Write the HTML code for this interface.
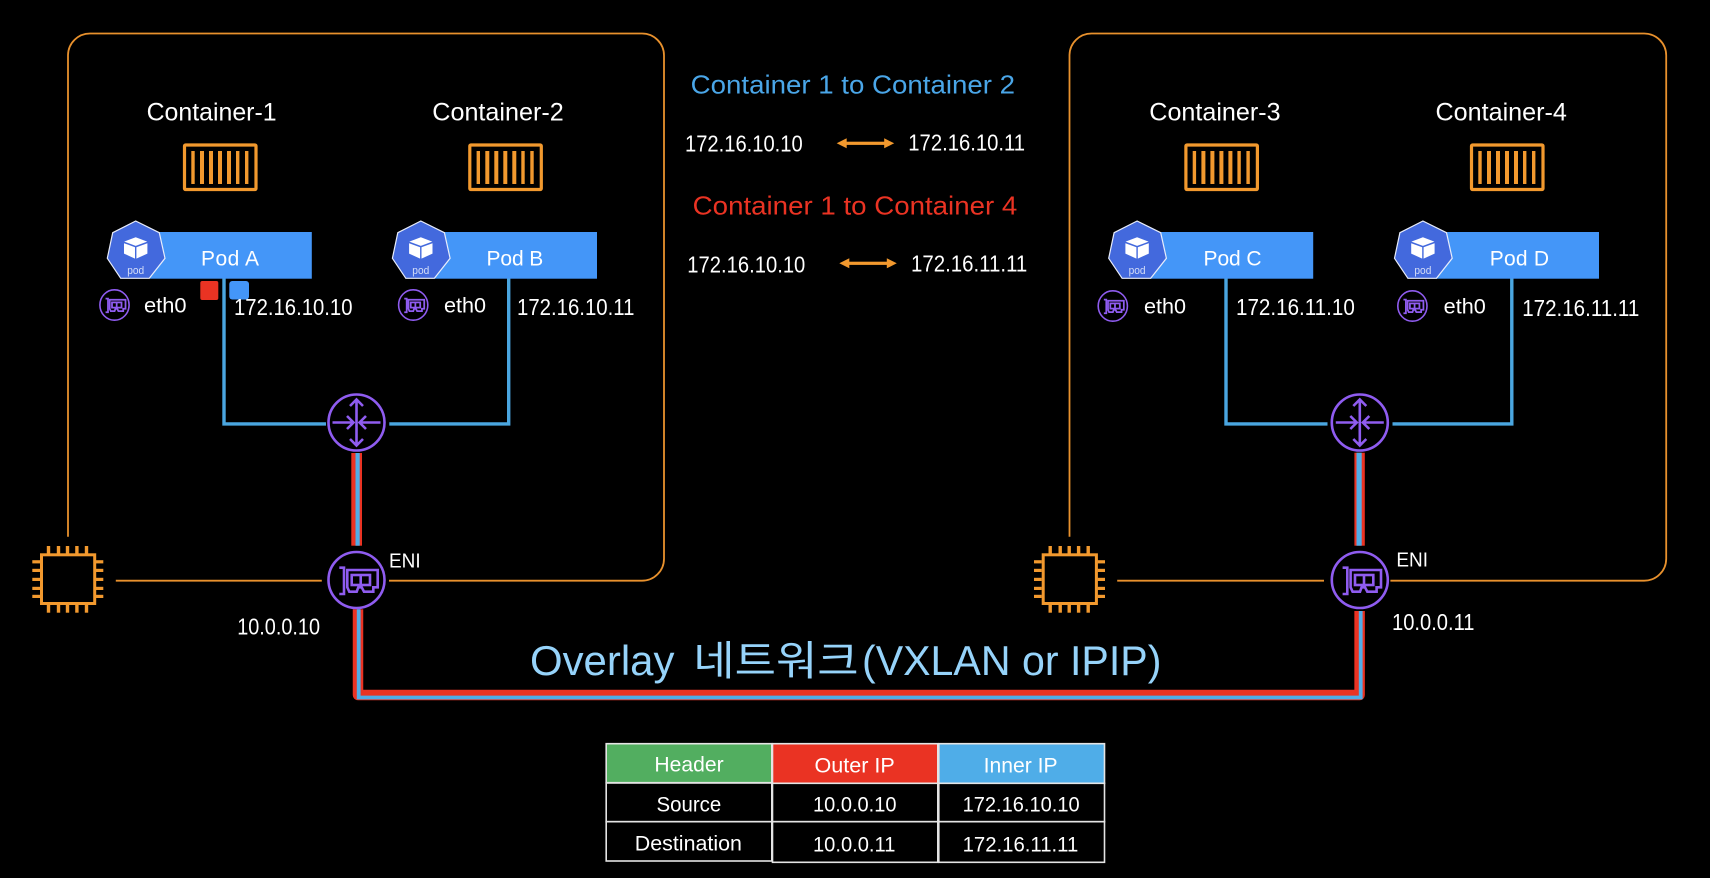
<!DOCTYPE html>
<html lang="ko">
<head>
<meta charset="utf-8">
<title>Overlay network</title>
<style>
html,body{margin:0;padding:0;background:#000;width:1710px;height:878px;overflow:hidden}
svg{display:block}
text{font-family:"Liberation Sans","Noto Sans CJK KR",sans-serif;fill:#fff}
.c{font-size:25px}
.p{font-size:21px}
.i{font-size:23px}
.t{font-size:21.5px}
.h{font-size:26px}
.e{font-size:20.5px}
.o{font-size:42px;fill:#96d3fa}
.k{font-family:"Noto Sans CJK KR","Liberation Sans",sans-serif;font-size:41px;fill:#96d3fa}
.q{font-size:11px;fill:#d5def8;text-anchor:middle}
</style>
</head>
<body>
<svg width="1710" height="878" viewBox="0 0 1710 878" xmlns="http://www.w3.org/2000/svg">
<defs>
  <g id="ctr">
    <rect x="1.5" y="1.5" width="71.5" height="44.5" fill="none" stroke="#f2992e" stroke-width="3.2" rx="1"/>
    <g fill="#f2992e">
      <rect x="8.3" y="7.5" width="3.4" height="33"/><rect x="17" y="7.5" width="4" height="33"/>
      <rect x="26" y="7.5" width="4" height="33"/><rect x="35" y="7.5" width="4" height="33"/>
      <rect x="44" y="7.5" width="4" height="33"/><rect x="53" y="7.5" width="3.4" height="33"/>
      <rect x="62" y="7.5" width="3.4" height="33"/>
    </g>
  </g>
  <g id="hex">
    <polygon points="0,0 23.6,11.7 29.3,37.3 13.6,57.3 -15,57.3 -28.4,37.3 -23,11.7" fill="#4369dd" stroke="#e8edfb" stroke-width="1.2"/>
    <polygon points="0,16.3 11.5,20.6 0,24.9 -11.5,20.6" fill="#fff"/>
    <polygon points="-11.7,22.2 -0.7,26.2 -0.7,37.6 -11.7,32.6" fill="#fff"/>
    <polygon points="11.7,22.2 0.7,26.2 0.7,37.6 11.7,32.6" fill="#fff"/>
  </g>
  <g id="rt" fill="none" stroke="#8f5cf0" stroke-width="2.6">
    <circle r="28"/>
    <path d="M0,-23V23M-6.5,-16.5L0,-23L6.5,-16.5M-6.5,16.5L0,23L6.5,16.5"/>
    <path d="M-24,0H-3M-9.5,-6.5L-3,0L-9.5,6.5M24,0H3M9.5,-6.5L3,0L9.5,6.5"/>
  </g>
  <g id="card" fill="none" stroke="#8f5cf0">
    <path d="M-17.2,-12.3H-12.5V14H-17.2"/>
    <path d="M-9.2,-10H21.2V7.3H16.8V11.7H7.5L5.2,7.3H1.8L0.2,11.7H-7.2L-9.2,7.3Z"/>
    <rect x="-4.8" y="-5" width="18.3" height="10"/>
    <path d="M4.2,-5V5"/>
  </g>
  <g id="eni"><circle r="28" fill="none" stroke="#8f5cf0" stroke-width="2.6"/><g stroke-width="2.6"><use href="#card"/></g></g>
  <g id="eth"><ellipse rx="14.6" ry="15.2" fill="none" stroke="#8f5cf0" stroke-width="1.6"/><g transform="scale(.52)" stroke-width="3.4"><use href="#card"/></g></g>
  <g id="chip" fill="#f2992e">
    <rect x="9.2" y="8.8" width="53.2" height="48.7" fill="none" stroke="#f2992e" stroke-width="3"/>
    <rect x="14.5" y="0" width="3.4" height="7.5"/><rect x="24.5" y="0" width="3.4" height="7.5"/><rect x="33.5" y="0" width="3.4" height="7.5"/><rect x="42.9" y="0" width="3.4" height="7.5"/><rect x="52.5" y="0" width="3.4" height="7.5"/>
    <rect x="14.5" y="59" width="3.4" height="7.7"/><rect x="24.5" y="59" width="3.4" height="7.7"/><rect x="33.5" y="59" width="3.4" height="7.7"/><rect x="42.9" y="59" width="3.4" height="7.7"/><rect x="52.5" y="59" width="3.4" height="7.7"/>
    <rect x="0" y="14.2" width="7.7" height="3.2"/><rect x="0" y="22.8" width="7.7" height="3.2"/><rect x="0" y="31.8" width="7.7" height="3.2"/><rect x="0" y="40.8" width="7.7" height="3.2"/><rect x="0" y="48.8" width="7.7" height="3.2"/>
    <rect x="63.7" y="14.2" width="7.3" height="3.2"/><rect x="63.7" y="22.8" width="7.3" height="3.2"/><rect x="63.7" y="31.8" width="7.3" height="3.2"/><rect x="63.7" y="40.8" width="7.3" height="3.2"/><rect x="63.7" y="48.8" width="7.3" height="3.2"/>
  </g>
  <g id="arr" fill="#f2992e">
    <rect x="8" y="-1.6" width="42" height="3.2"/>
    <polygon points="0,0 10,-5 10,5"/>
    <polygon points="57.5,0 47.5,-5 47.5,5"/>
  </g>
</defs>

<rect width="1710" height="878" fill="#000"/>

<!-- node outlines -->
<g fill="none" stroke="#e8912d" stroke-width="1.8">
  <path d="M68,536.7V55A22,22 0 0 1 90,33.5H642A22,22 0 0 1 664,55.5V558.7A22,22 0 0 1 642,580.7H389"/>
  <path d="M115.8,580.7H321.8"/>
  <path d="M1069.5,536.7V55A22,22 0 0 1 1091.5,33.5H1644.2A22,22 0 0 1 1666.2,55.5V558.7A22,22 0 0 1 1644.2,580.7H1390.4"/>
  <path d="M1117.2,580.7H1324"/>
</g>

<!-- veth lines -->
<g fill="none" stroke="#4aa6e0" stroke-width="3.4">
  <path d="M224,278V423.9H326"/>
  <path d="M389.3,423.9H508.7V278"/>
  <path d="M1226,278V423.9H1327.5"/>
  <path d="M1392.5,423.9H1511.8V278"/>
</g>

<!-- overlay lines -->
<rect x="351.3" y="453" width="10.7" height="92.7" fill="#ea3323"/>
<rect x="355.5" y="453" width="4.2" height="92.7" fill="#4fade8"/>
<rect x="1354.4" y="452.7" width="10.4" height="93" fill="#ea3323"/>
<rect x="1356.5" y="452.7" width="5.2" height="93" fill="#4fade8"/>
<path d="M358,609.3V695H1359.6V611" fill="none" stroke="#ea3323" stroke-width="10.5" stroke-linejoin="round"/>
<path d="M358.7,609.3V697.5H1360.7V611" fill="none" stroke="#4fade8" stroke-width="3.8"/>

<!-- container icons -->
<use href="#ctr" x="183" y="143.5"/>
<use href="#ctr" x="468.3" y="143.5"/>
<use href="#ctr" x="1184.4" y="143.5"/>
<use href="#ctr" x="1470" y="143.5"/>

<!-- pod bars -->
<rect x="150" y="232" width="161.8" height="46.7" fill="#4496f8"/>
<rect x="435" y="232" width="162" height="46.7" fill="#4496f8"/>
<rect x="1150" y="232" width="163.2" height="46.7" fill="#4496f8"/>
<rect x="1436" y="232" width="163" height="46.7" fill="#4496f8"/>

<use href="#hex" x="135.7" y="221"/>
<use href="#hex" x="420.8" y="221"/>
<use href="#hex" x="1137.1" y="221"/>
<use href="#hex" x="1422.9" y="221"/>
<text class="q" x="135.7" y="274" textLength="17" lengthAdjust="spacingAndGlyphs">pod</text>
<text class="q" x="420.8" y="274" textLength="17" lengthAdjust="spacingAndGlyphs">pod</text>
<text class="q" x="1137.1" y="274" textLength="17" lengthAdjust="spacingAndGlyphs">pod</text>
<text class="q" x="1422.9" y="274" textLength="17" lengthAdjust="spacingAndGlyphs">pod</text>

<!-- markers -->
<rect x="200.3" y="281" width="18" height="19" rx="2" fill="#ea3323"/>
<rect x="229.3" y="281" width="19.7" height="18.5" rx="3" fill="#4496f8"/>

<!-- eth icons -->
<use href="#eth" x="114.5" y="305"/>
<use href="#eth" x="413.2" y="305"/>
<use href="#eth" x="1112.8" y="306"/>
<use href="#eth" x="1412.4" y="306"/>

<!-- routers, ENIs, chips -->
<use href="#rt" x="356.5" y="422.5"/>
<use href="#rt" x="1359.8" y="422.5"/>
<use href="#eni" x="356.5" y="580"/>
<use href="#eni" x="1359.8" y="580"/>
<use href="#chip" x="32.3" y="546"/>
<use href="#chip" x="1034" y="546"/>

<!-- center arrows -->
<use href="#arr" x="836.7" y="143.3"/>
<use href="#arr" x="839.3" y="263.3"/>

<!-- labels -->
<text class="c" x="146.6" y="120.7" textLength="130" lengthAdjust="spacingAndGlyphs">Container-1</text>
<text class="c" x="432.3" y="120.7" textLength="131.4" lengthAdjust="spacingAndGlyphs">Container-2</text>
<text class="c" x="1149.3" y="120.7" textLength="131.3" lengthAdjust="spacingAndGlyphs">Container-3</text>
<text class="c" x="1435.5" y="120.7" textLength="131.4" lengthAdjust="spacingAndGlyphs">Container-4</text>

<text class="p" x="201" y="265.7" textLength="58" lengthAdjust="spacing">Pod A</text>
<text class="p" x="486.5" y="265.7" textLength="56.8" lengthAdjust="spacing">Pod B</text>
<text class="p" x="1203.5" y="265.7" textLength="58.1" lengthAdjust="spacing">Pod C</text>
<text class="p" x="1489.7" y="265.7" textLength="59.3" lengthAdjust="spacing">Pod D</text>

<text class="p" x="144" y="312.7" textLength="42.5" lengthAdjust="spacingAndGlyphs">eth0</text>
<text class="p" x="444" y="312.7" textLength="42" lengthAdjust="spacingAndGlyphs">eth0</text>
<text class="p" x="1144" y="313.3" textLength="42" lengthAdjust="spacingAndGlyphs">eth0</text>
<text class="p" x="1443.7" y="313.3" textLength="42.1" lengthAdjust="spacingAndGlyphs">eth0</text>

<text class="i" x="234" y="315" textLength="118.5" lengthAdjust="spacingAndGlyphs">172.16.10.10</text>
<text class="i" x="517" y="315" textLength="117.4" lengthAdjust="spacingAndGlyphs">172.16.10.11</text>
<text class="i" x="1236" y="315" textLength="118.8" lengthAdjust="spacingAndGlyphs">172.16.11.10</text>
<text class="i" x="1522.2" y="316" textLength="117.1" lengthAdjust="spacingAndGlyphs">172.16.11.11</text>

<text class="e" x="389" y="567.3" textLength="31.6" lengthAdjust="spacingAndGlyphs">ENI</text>
<text class="e" x="1396.4" y="566.3" textLength="31.6" lengthAdjust="spacingAndGlyphs">ENI</text>
<text class="i" x="237.2" y="634.7" textLength="82.8" lengthAdjust="spacingAndGlyphs">10.0.0.10</text>
<text class="i" x="1392" y="630" textLength="82.5" lengthAdjust="spacingAndGlyphs">10.0.0.11</text>

<text class="h" x="690.7" y="93.3" textLength="324.3" lengthAdjust="spacingAndGlyphs" style="fill:#4aa6e8">Container 1 to Container 2</text>
<text class="i" x="685" y="151.7" textLength="117.7" lengthAdjust="spacingAndGlyphs">172.16.10.10</text>
<text class="i" x="908.3" y="150.7" textLength="116.7" lengthAdjust="spacingAndGlyphs">172.16.10.11</text>
<text class="h" x="692.7" y="214.3" textLength="324.6" lengthAdjust="spacingAndGlyphs" style="fill:#ea3323">Container 1 to Container 4</text>
<text class="i" x="687.3" y="272.7" textLength="118" lengthAdjust="spacingAndGlyphs">172.16.10.10</text>
<text class="i" x="911" y="271.7" textLength="116.3" lengthAdjust="spacingAndGlyphs">172.16.11.11</text>

<text class="o" x="530" y="675" textLength="144.4" lengthAdjust="spacingAndGlyphs">Overlay</text>
<text class="k" x="693.3" y="675" textLength="165.3" lengthAdjust="spacingAndGlyphs">네트워크</text>
<text class="o" x="862" y="675" textLength="299.4" lengthAdjust="spacingAndGlyphs">(VXLAN or IPIP)</text>

<!-- table -->
<g stroke="#e4e4e4" stroke-width="1.6">
  <rect x="606.2" y="743.7" width="165.6" height="39" fill="#52ae60"/>
  <rect x="606.2" y="783" width="165.6" height="38.7" fill="#000"/>
  <rect x="606.2" y="821.7" width="165.6" height="39.3" fill="#000"/>
  <rect x="772.5" y="743.7" width="165.3" height="39.6" fill="#ea3323"/>
  <rect x="772.5" y="783.3" width="165.3" height="38.4" fill="#000"/>
  <rect x="772.5" y="821.7" width="165.3" height="40.6" fill="#000"/>
  <rect x="938.8" y="743.7" width="165.7" height="39.6" fill="#4fade8"/>
  <rect x="938.8" y="783.3" width="165.7" height="38.4" fill="#000"/>
  <rect x="938.8" y="821.7" width="165.7" height="40.6" fill="#000"/>
</g>
<text class="t" x="654.4" y="771.7" textLength="69.2" lengthAdjust="spacingAndGlyphs">Header</text>
<text class="t" x="814.5" y="772.7" textLength="80.3" lengthAdjust="spacingAndGlyphs">Outer IP</text>
<text class="t" x="983.6" y="772.7" textLength="74" lengthAdjust="spacingAndGlyphs">Inner IP</text>
<text class="t" x="656.5" y="811.7" textLength="64.7" lengthAdjust="spacingAndGlyphs">Source</text>
<text class="t" x="813" y="811.7" textLength="83.5" lengthAdjust="spacingAndGlyphs">10.0.0.10</text>
<text class="t" x="962.6" y="811.7" textLength="117.1" lengthAdjust="spacingAndGlyphs">172.16.10.10</text>
<text class="t" x="634.8" y="850.7" textLength="107.1" lengthAdjust="spacingAndGlyphs">Destination</text>
<text class="t" x="813" y="851.7" textLength="82.4" lengthAdjust="spacingAndGlyphs">10.0.0.11</text>
<text class="t" x="962.6" y="851.7" textLength="115.7" lengthAdjust="spacingAndGlyphs">172.16.11.11</text>
</svg>
</body>
</html>
